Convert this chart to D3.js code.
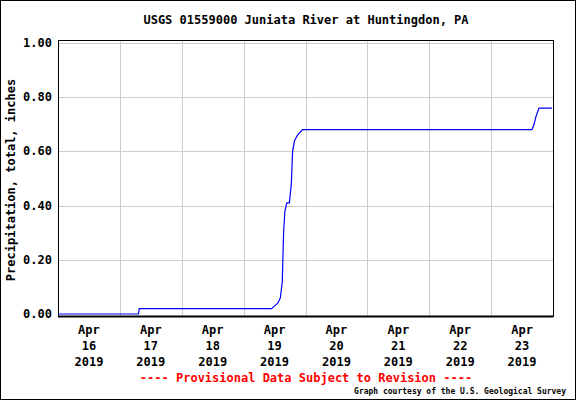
<!DOCTYPE html>
<html><head><meta charset="utf-8">
<script src="https://cdn.jsdelivr.net/npm/d3@7"></script>
<style>body{margin:0}svg{display:block}text{font-family:"DejaVu Sans Mono",monospace;font-weight:bold}</style>
</head><body><svg id="c" width="576" height="400"></svg>
<script>
const times = ["2019-04-16T00:00","2019-04-17T07:15","2019-04-17T07:30","2019-04-19T10:50","2019-04-19T12:00","2019-04-19T13:15","2019-04-19T14:15","2019-04-19T15:00","2019-04-19T15:30","2019-04-19T16:00","2019-04-19T16:45","2019-04-19T17:45","2019-04-19T18:30","2019-04-19T19:00","2019-04-19T19:45","2019-04-19T20:55","2019-04-19T22:50","2019-04-23T15:50","2019-04-23T16:40","2019-04-23T17:25","2019-04-23T18:35","2019-04-23T23:35"];
const precip = [0,0,0.02,0.02,0.03,0.04,0.06,0.12,0.30,0.38,0.41,0.41,0.48,0.60,0.64,0.66,0.68,0.68,0.70,0.73,0.76,0.76];
const days = ["16","17","18","19","20","21","22","23"];
const yTicks = [0,0.2,0.4,0.6,0.8,1.0];

const svg = d3.select("#c");
const m = {l:58, r:553, t:40, b:316};
const x = d3.scaleTime().domain([new Date("2019-04-16T00:00"), new Date("2019-04-24T00:00")]).range([m.l, m.r]);
const y = d3.scaleLinear().domain([0,1]).range([314, 43]);

svg.append("rect").attr("x",0.5).attr("y",0.5).attr("width",575).attr("height",399).attr("fill","#fff").attr("stroke","#000");

const g = svg.append("g");
d3.range(1,8).forEach(i => {
  const xv = Math.round(x(new Date(2019,3,16+i))) + 0.5;
  g.append("line").attr("x1",xv).attr("x2",xv).attr("y1",m.t).attr("y2",m.b).attr("stroke","#ccc");
});
yTicks.slice(1).forEach(v => {
  const yv = Math.round(y(v)) + 0.5;
  g.append("line").attr("x1",m.l).attr("x2",m.r).attr("y1",yv).attr("y2",yv).attr("stroke","#ccc");
});
svg.append("rect").attr("x",m.l+0.5).attr("y",m.t+0.5).attr("width",m.r-m.l).attr("height",m.b-m.t).attr("fill","none").attr("stroke","#000");
svg.append("line").attr("x1",m.l).attr("x2",m.r).attr("y1",m.b+0.5).attr("y2",m.b+0.5).attr("stroke","#000").attr("stroke-width",2);

yTicks.forEach(v => {
  svg.append("text").attr("x",m.l-6).attr("y",y(v)+4).attr("text-anchor","end").attr("font-size",12).text(v.toFixed(2));
});
days.forEach((d,i) => {
  const xv = x(new Date(2019,3,16+i,12));
  const t = svg.append("text").attr("x",xv).attr("text-anchor","middle").attr("font-size",12);
  ["Apr",d,"2019"].forEach((s,j) => t.append("tspan").attr("x",xv).attr("y",334+j*16).text(s));
});

const line = d3.line().x((d,i) => x(new Date(times[i]))).y(d => y(d));
svg.append("path").datum(precip).attr("d",line).attr("fill","none").attr("stroke","#0000ff").attr("stroke-width",1.2);

svg.append("text").attr("x",306).attr("y",24).attr("text-anchor","middle").attr("font-size",12).text("USGS 01559000 Juniata River at Huntingdon, PA");
svg.append("text").attr("transform","translate(15,180) rotate(-90)").attr("text-anchor","middle").attr("font-size",12).text("Precipitation, total, inches");
svg.append("text").attr("x",306).attr("y",382).attr("text-anchor","middle").attr("font-size",12).attr("fill","#ff0000").text("---- Provisional Data Subject to Revision ----");
svg.append("text").attr("x",566).attr("y",394).attr("text-anchor","end").attr("font-size",8).attr("font-weight","normal").text("Graph courtesy of the U.S. Geological Survey");
</script></body></html>
